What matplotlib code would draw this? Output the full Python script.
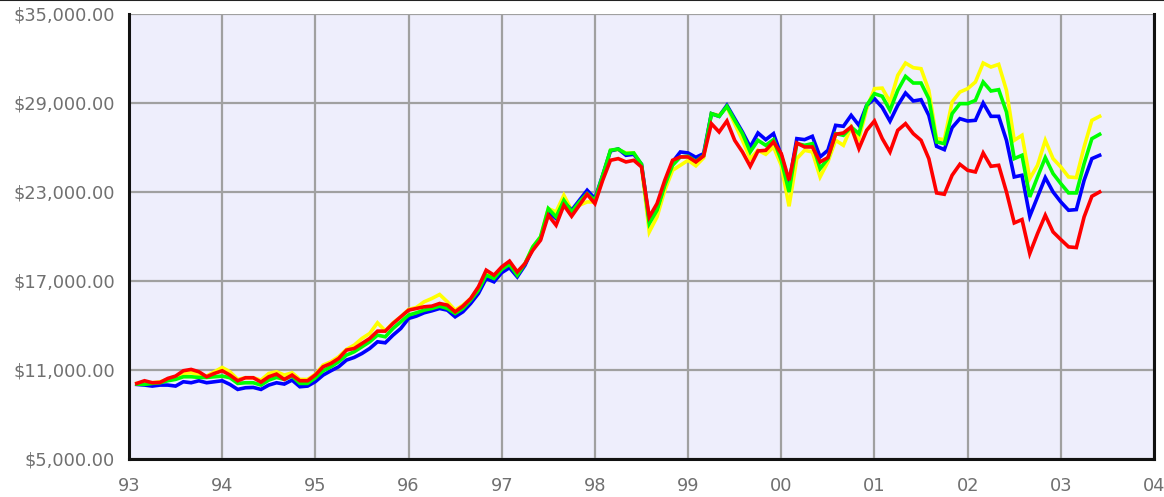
import numpy as np
import matplotlib.pyplot as plt
from matplotlib.lines import Line2D
from matplotlib.ticker import FuncFormatter

# monthly values, Feb 1993 .. Jun 2003
start_year = 1993
first_month = 1

yellow = [10079, 10124, 10124, 10191, 10349, 10483, 10753, 10798, 10686, 10573, 10865, 11157,
          10865, 10349, 10461, 10461, 10304, 10753, 10865, 10641, 10798, 10349, 10349, 10700,
          11314, 11539, 11876, 12370, 12662, 13112, 13449, 14167, 13629, 14167, 14572, 15066,
          15201, 15583, 15808, 16078, 15583, 15021, 15359, 15808, 16482, 17493, 17268, 17718,
          18200, 17491, 18166, 19289, 19963, 21873, 21648, 22772, 21761, 22098, 22323, 22323,
          23900, 25805, 25850, 25625, 25625, 24727, 20300, 21311, 23109, 24457, 24794, 25131,
          24760, 25300, 28277, 28165, 28726, 27603, 26479, 25244, 25805, 25536, 26030, 24794,
          22030, 25244, 25805, 25693, 24008, 25019, 26479, 26142, 27378, 26592, 28614, 29962,
          30000, 29063, 30861, 31692, 31378, 31310, 29850, 26591, 26524, 29063, 29737, 29962,
          30411, 31692, 31422, 31602, 29850, 26479, 26816, 23895, 24794, 26479, 25243, 24681,
          24007, 23962, 26030, 27827, 28097]

green = [10034, 10011, 10079, 10124, 10259, 10349, 10528, 10528, 10483, 10483, 10528, 10573,
         10461, 10079, 10124, 10124, 9967, 10304, 10483, 10348, 10573, 10079, 10079, 10450,
         10932, 11202, 11539, 11988, 12213, 12550, 12887, 13336, 13224, 13786, 14235, 14684,
         14842, 15021, 15134, 15291, 15134, 14797, 15134, 15696, 16370, 17381, 17156, 17770,
         18110, 17379, 18166, 19289, 19963, 21873, 21311, 22435, 21648, 22323, 22885, 22435,
         24120, 25805, 25895, 25581, 25625, 24862, 20862, 21761, 23446, 24794, 25356, 25401,
         25060, 25450, 28277, 28097, 28771, 27828, 26929, 25693, 26479, 26142, 26524, 25131,
         22996, 26255, 26142, 26255, 24570, 25244, 26929, 26816, 27378, 26929, 28839, 29625,
         29450, 28501, 29850, 30793, 30344, 30344, 29288, 26367, 26254, 28276, 28951, 28951,
         29175, 30411, 29805, 29894, 28389, 25243, 25468, 22659, 24007, 25311, 24232, 23558,
         22929, 22929, 24906, 26591, 26883]

blue = [10011, 9967, 9899, 9967, 9967, 9899, 10191, 10124, 10259, 10124, 10191, 10259,
        10011, 9674, 9787, 9809, 9674, 9967, 10124, 10034, 10304, 9854, 9899, 10200,
        10640, 10932, 11202, 11651, 11831, 12100, 12437, 12887, 12819, 13336, 13786, 14460,
        14617, 14842, 14976, 15134, 15021, 14572, 14909, 15471, 16145, 17156, 16931, 17550,
        17885, 17267, 18053, 19177, 19851, 21648, 21199, 22323, 21761, 22435, 23109, 22547,
        24120, 25760, 25895, 25468, 25536, 24862, 21087, 21873, 23558, 25019, 25693, 25626,
        25330, 25580, 28277, 28097, 28839, 27940, 27041, 26030, 26974, 26524, 26929, 25468,
        23558, 26592, 26524, 26749, 25356, 25805, 27490, 27423, 28165, 27490, 28839, 29288,
        28700, 27770, 28838, 29670, 29131, 29220, 28164, 26074, 25850, 27333, 27940, 27782,
        27827, 28996, 28097, 28097, 26479, 24007, 24120, 21356, 22659, 23962, 22996, 22322,
        21760, 21805, 23782, 25243, 25468]

red = [10079, 10259, 10124, 10146, 10416, 10573, 10933, 11023, 10865, 10528, 10753, 10933,
       10641, 10259, 10461, 10461, 10169, 10528, 10708, 10348, 10641, 10259, 10259, 10650,
       11202, 11426, 11763, 12325, 12437, 12774, 13112, 13606, 13606, 14123, 14572, 15021,
       15134, 15246, 15291, 15471, 15359, 14909, 15291, 15808, 16594, 17718, 17381, 17940,
       18330, 17604, 18166, 19064, 19739, 21424, 20750, 22098, 21356, 22098, 22840, 22210,
       23783, 25131, 25244, 25019, 25131, 24682, 21311, 22210, 23783, 25131, 25356, 25356,
       25019, 25430, 27603, 27041, 27783, 26479, 25693, 24727, 25760, 25805, 26367, 25581,
       23783, 26300, 26030, 26030, 25019, 25311, 26884, 26974, 27378, 25918, 27153, 27783,
       26600, 25693, 27153, 27603, 26928, 26479, 25243, 22929, 22839, 24120, 24861, 24456,
       24344, 25625, 24726, 24794, 22996, 20906, 21131, 18839, 20187, 21423, 20299, 19783,
       19289, 19244, 21311, 22704, 22996]

year_ticks = list(range(1993, 2005))
year_labels = ["93", "94", "95", "96", "97", "98", "99", "00", "01", "02", "03", "04"]
y_ticks = [5000, 11000, 17000, 23000, 29000, 35000]

x = start_year + (first_month + np.arange(len(red))) / 12.0

fig = plt.figure(figsize=(11.64, 4.97), dpi=100)
ax = fig.add_axes([129 / 1164, 1 - 458.7 / 497, 1025 / 1164, 444.7 / 497])
ax.set_facecolor("#eeeefc")

for series, col in [(yellow, "#ffff00"), (blue, "#0000ff"), (green, "#00ff00"), (red, "#ff0000")]:
    ax.plot(x, series, color=col, linewidth=2.6, solid_joinstyle="miter", zorder=3)

ax.set_xlim(1993, 2004)
ax.set_ylim(5000, 35000)
ax.set_xticks(year_ticks)
ax.set_xticklabels(year_labels)
ax.set_yticks(y_ticks)
ax.yaxis.set_major_formatter(FuncFormatter(lambda v, p: "${:,.2f}".format(v)))
ax.grid(True, color="#a0a0a0", linewidth=1.6)
ax.set_axisbelow(True)
ax.tick_params(length=0, labelsize=12.8, labelcolor="#707070")
ax.tick_params(axis="x", pad=13)
ax.tick_params(axis="y", pad=10)

for side in ["left", "bottom", "right"]:
    ax.spines[side].set_linewidth(2.2)
    ax.spines[side].set_color("#111111")
ax.spines["top"].set_visible(False)

fig.add_artist(Line2D([0, 1], [0.999, 0.999], color="#222222", linewidth=1.5, transform=fig.transFigure))

fig.savefig("out.png", dpi=100)
